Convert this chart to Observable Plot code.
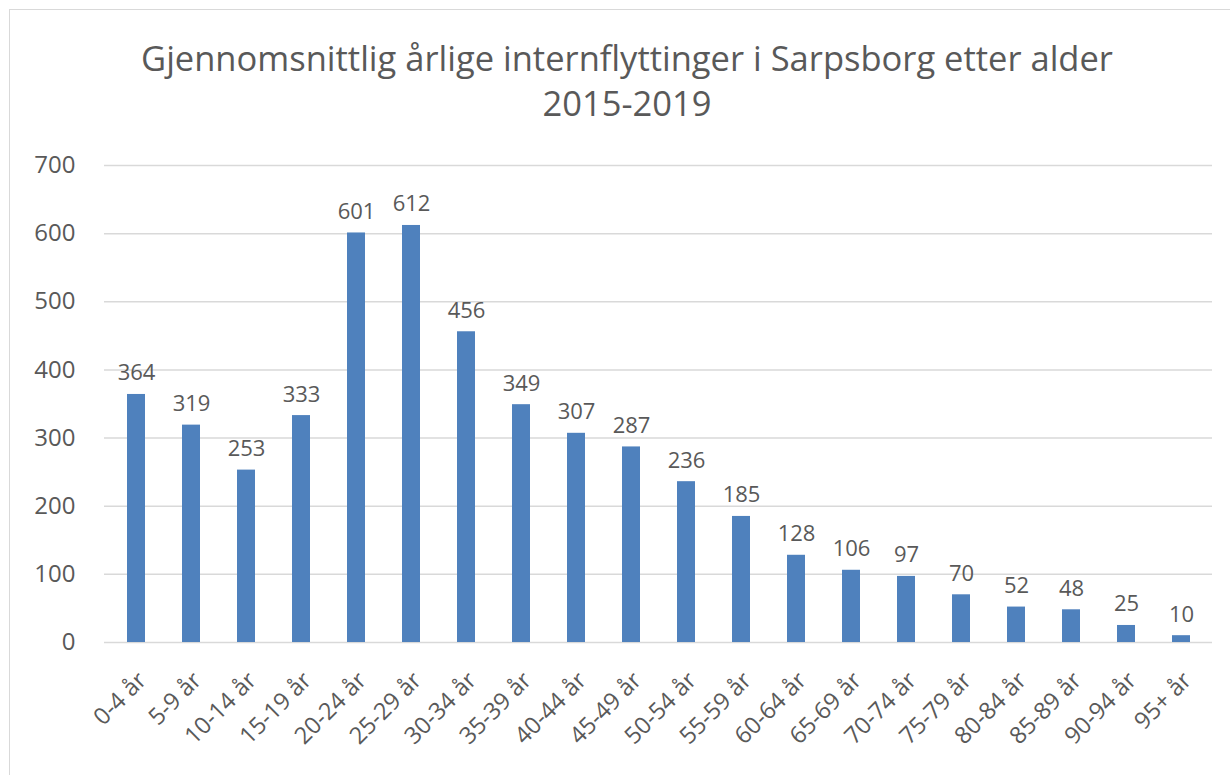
<!DOCTYPE html>
<html><head><meta charset="utf-8">
<script src="https://cdn.jsdelivr.net/npm/d3@7"></script>
<script src="https://cdn.jsdelivr.net/npm/@observablehq/plot@0.6"></script>
<style>
body{margin:0;background:#fff;}
#wrap{position:relative;width:1230px;height:775px;overflow:hidden;font-family:"Open Sans",sans-serif;background:#fff;}
#frame{position:absolute;left:9px;top:9px;width:1240px;height:800px;border:1.5px solid #d9d9d9;}
#title{position:absolute;left:0;top:35px;width:1254px;text-align:center;font-size:34.5px;color:#595959;line-height:45px;}
#chart{position:absolute;left:0;top:140px;}
</style></head>
<body>
<div id="wrap">
<div id="frame"></div>
<div id="title">Gjennomsnittlig årlige internflyttinger i Sarpsborg etter alder<br>2015-2019</div>
<div id="chart"></div>
</div>
<script>
const categories = ["0-4 år","5-9 år","10-14 år","15-19 år","20-24 år","25-29 år","30-34 år","35-39 år","40-44 år","45-49 år","50-54 år","55-59 år","60-64 år","65-69 år","70-74 år","75-79 år","80-84 år","85-89 år","90-94 år","95+ år"];
const values = [364,319,253,333,601,612,456,349,307,287,236,185,128,106,97,70,52,48,25,10];
const yTicks = [0,100,200,300,400,500,600,700];

const data = categories.map((c,i)=>({age:c, value:values[i]}));

const chart = Plot.plot({
  width: 1230,
  height: 635,
  marginTop: 25,
  marginBottom: 133,
  marginLeft: 104,
  marginRight: 18,
  style: {fontFamily: '"Open Sans", sans-serif', color: "#595959", background: "transparent"},
  x: {domain: categories, paddingInner: 0.68, paddingOuter: 0.34, label: null},
  y: {domain: [0,700], ticks: yTicks, label: null},
  marks: [
    Plot.ruleY(yTicks, {stroke: "#d9d9d9", strokeWidth: 1.5}),
    Plot.barY(data, {x: "age", y: "value", fill: "#4f81bd"}),
    Plot.text(data, {x: "age", y: "value", text: d => String(d.value), lineAnchor: "bottom", dy: -14, fontSize: 22, fill: "#595959"}),
    Plot.axisY({ticks: yTicks, tickSize: 0, tickPadding: 29, fontSize: 24, fill: "#595959", label: null}),
    Plot.axisX({tickSize: 0, tickRotate: -45, tickPadding: 34, dx: 6, fontSize: 23.5, fill: "#595959", label: null})
  ]
});
document.getElementById("chart").appendChild(chart);
</script>
</body></html>
